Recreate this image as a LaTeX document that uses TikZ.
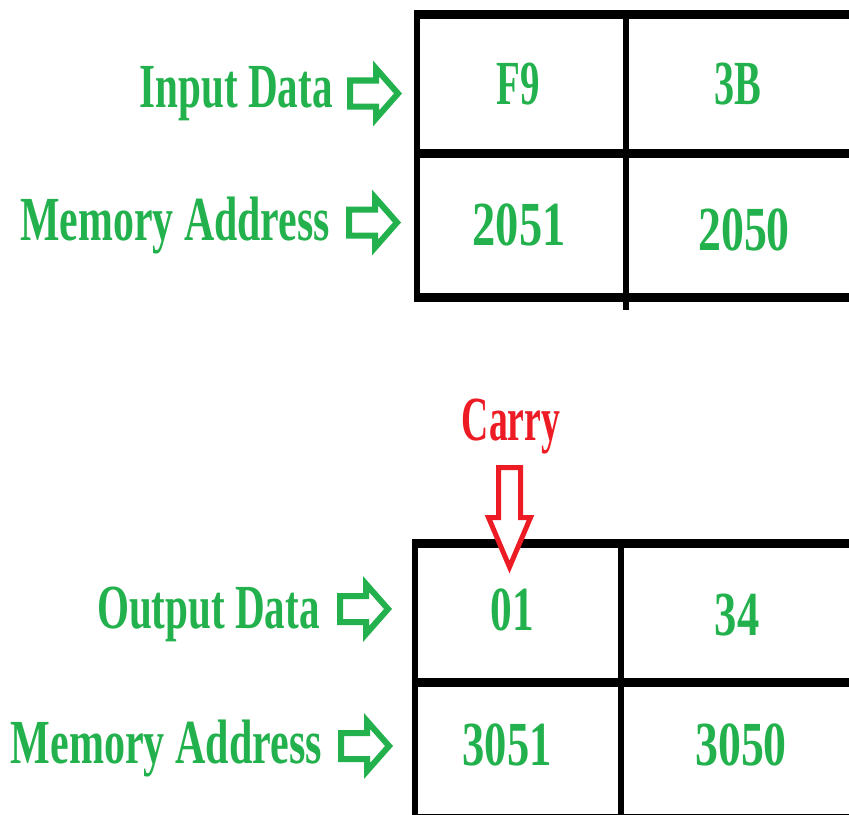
\documentclass[tikz,border=0pt]{standalone}
\usepackage{fontspec}
\setmainfont{Liberation Serif}
\definecolor{pgreen}{RGB}{34,177,76}
\definecolor{pred}{RGB}{237,28,36}
\newcommand\sqz[2]{\scalebox{#1}[1]{#2}}
\tikzset{
  bigtext/.style={inner sep=0pt, font=\fontsize{63}{70}\selectfont\bfseries},
  lbl/.style={bigtext, anchor=base east, text=pgreen},
  cell/.style={bigtext, anchor=base, text=pgreen},
  carrytext/.style={bigtext, anchor=base, text=pred},
  hline/.style={line width=9bp, black},
  vline/.style={line width=6bp, black},
  garrowline/.style={draw=pgreen, fill=white, line width=6bp, line join=miter},
  rarrowline/.style={draw=pred, fill=white, line width=5bp, line join=miter},
  garrow/.pic={\path[garrowline] (0,-13) -- (26,-13) -- (26,-25) -- (48,0) -- (26,25) -- (26,13) -- (0,13) -- cycle;},
  rarrow/.pic={\path[rarrowline] (-11,0) -- (11,0) -- (11,50) -- (21,50) -- (0,99.5) -- (-21,50) -- (-11,50) -- cycle;}
}
\begin{document}
\begin{tikzpicture}[x=1bp,y=-1bp]
\useasboundingbox (0,0) rectangle (849,815);
\clip (0,0) rectangle (849,815);
% ---- top table ----
\coordinate (t1) at (417,10.5);
\coordinate (t2) at (417,301.5);
\draw[hline] (860,15) -- (414,15);
\draw[hline] (860,153.5) -- (414,153.5);
\draw[hline] (860,297) -- (414,297);
\draw[vline] (t1) -- (t2);
\draw[vline] (626,11) -- (626,310);
% ---- bottom table ----
\draw[hline] (860,543) -- (412,543);
\draw[hline] (860,682.5) -- (412,682.5);
\draw[hline] (860,818) -- (412,818);
\draw[vline] (414.5,539) -- (414.5,815);
\draw[vline] (621,539) -- (621,815);
% ---- cell texts ----
\node[cell] (f9) at (518,104) {\sqz{0.62}{F9}};
\node[cell] (b3) at (738,104) {\sqz{0.64}{3B}};
\node[cell] (a2051) at (519,245) {\sqz{0.74}{2051}};
\node[cell] (a2050) at (744,250) {\sqz{0.73}{2050}};
\node[cell] (o01) at (512,630) {\sqz{0.69}{01}};
\node[cell] (o34) at (737,635) {\sqz{0.71}{34}};
\node[cell] (a3051) at (507,765) {\sqz{0.71}{3051}};
\node[cell] (a3050) at (741,765) {\sqz{0.73}{3050}};
% ---- labels ----
\node[lbl] (lin) at (333,107) {\sqz{0.655}{Input Data}};
\node[lbl] (lma1) at (330,240) {\sqz{0.667}{Memory Address}};
\node[lbl] (lout) at (320,628) {\sqz{0.655}{Output Data}};
\node[lbl] (lma2) at (322,763) {\sqz{0.67}{Memory Address}};
% ---- green arrows ----
\coordinate (ga1) at (350,93.5);
\coordinate (ga2) at (349,222.5);
\coordinate (ga3) at (340,609);
\coordinate (ga4) at (341,746);
\pic at (ga1) {garrow};
\pic at (ga2) {garrow};
\pic at (ga3) {garrow};
\pic at (ga4) {garrow};
% ---- carry ----
\node[carrytext] (carry) at (511,440) {\sqz{0.6}{Carry}};
\coordinate (ra) at (509.5,467.5);
\pic at (ra) {rarrow};
\end{tikzpicture}
\end{document}
